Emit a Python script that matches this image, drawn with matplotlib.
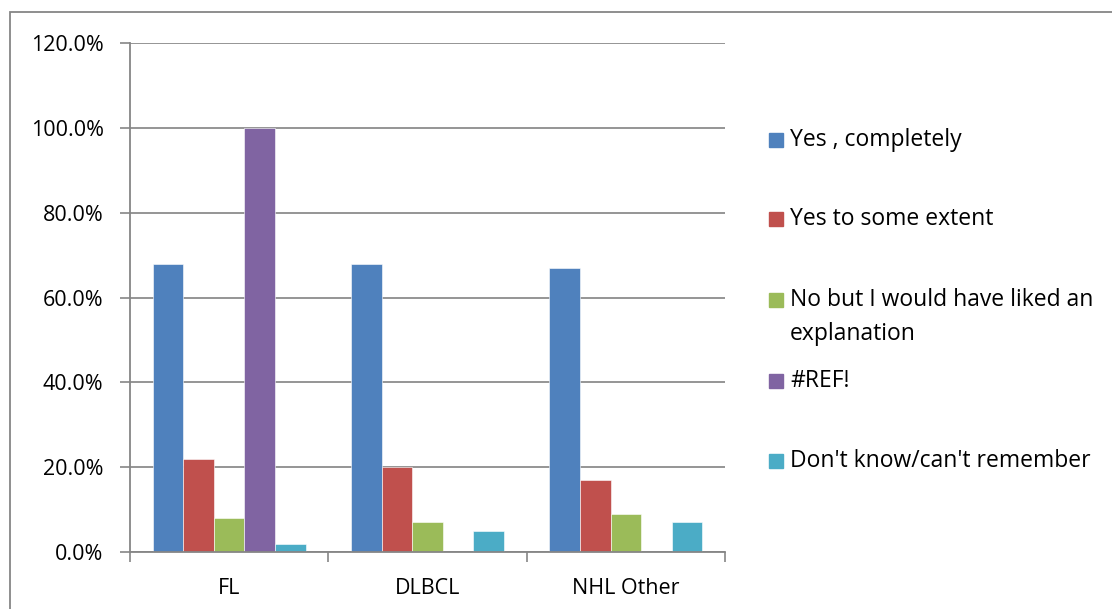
import matplotlib
matplotlib.use("Agg")
import matplotlib.pyplot as plt
import numpy as np
from matplotlib.patches import Rectangle
from matplotlib.ticker import FuncFormatter, FixedLocator

plt.rcParams['font.family'] = ['Open Sans', 'DejaVu Sans']

categories = ["FL", "DLBCL", "NHL Other"]
series_names = ["Yes , completely", "Yes to some extent",
                "No but I would have liked an\nexplanation", "#REF!",
                "Don't know/can't remember"]
values = [
    [68, 68, 67],
    [22, 20, 17],
    [8, 7, 9],
    [100, np.nan, np.nan],
    [2, 5, 7],
]
colors = ["#4F81BD", "#C0504D", "#9BBB59", "#8064A2", "#4BACC6"]
yticks = [0, 20, 40, 60, 80, 100, 120]

W, H = 1112, 609
fig = plt.figure(figsize=(W / 100, H / 100), dpi=100)
ax = fig.add_axes([130 / W, 1 - 552 / H, (725 - 130) / W, (552 - 43) / H])

n = len(series_names)
bw = 0.154
x = np.arange(len(categories))
for i, (name, vals, c) in enumerate(zip(series_names, values, colors)):
    offs = (i - (n - 1) / 2) * bw
    ax.bar(x + offs, vals, width=bw, color=c, edgecolor='white', linewidth=0.4, zorder=3)

ax.set_xlim(-0.5, len(categories) - 0.5)
ax.set_ylim(0, 120)
ax.set_yticks(yticks)
ax.yaxis.set_major_formatter(FuncFormatter(lambda v, p: f"{v:.1f}%"))
ax.set_xticks(x)
ax.set_xticklabels(categories)
ax.xaxis.set_minor_locator(FixedLocator(np.arange(len(categories) + 1) - 0.5))
ax.tick_params(axis='x', which='major', length=0, pad=19, labelsize=15.5)
ax.tick_params(axis='x', which='minor', length=7, color='#868686', width=1.2, direction='out')
ax.tick_params(axis='y', length=7, color='#868686', width=1.2, labelsize=15.5, pad=12)
ax.grid(axis='y', color='#8C8C8C', linewidth=1.3, zorder=0)
for s in ['top', 'right']:
    ax.spines[s].set_visible(False)
for s in ['left', 'bottom']:
    ax.spines[s].set_color('#868686')
    ax.spines[s].set_linewidth(1.3)
ax.spines['bottom'].set_zorder(4)

# Legend drawn manually from series names/colors
leg_y = [140, 219, 317, 381, 461]
for name, c, yy in zip(series_names, colors, leg_y):
    multi = '\n' in name
    my = yy - 17 if multi else yy
    fig.patches.append(Rectangle((769 / W, 1 - (my + 7) / H), 14 / W, 14 / H,
                                 transform=fig.transFigure, color=c))
    fig.text(790 / W, 1 - yy / H, name, fontsize=16.5,
             va='center', ha='left', linespacing=1.6)

# outer chart border (right and bottom edges fall outside the image)
fig.patches.append(Rectangle((10 / W, -0.1), 1.2, 1.1 - 12 / H, transform=fig.transFigure,
                             fill=False, edgecolor='#868686', linewidth=1.3))

fig.savefig("out.png", dpi=100)
